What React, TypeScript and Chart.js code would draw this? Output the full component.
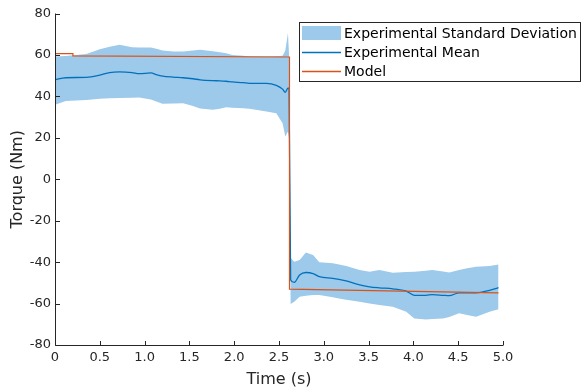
import React, { useEffect, useRef } from "react";
import { Chart, registerables } from "chart.js";

Chart.register(...registerables);

// Time samples shared by the standard-deviation band and the mean
const timeS = [
  0, 0.12, 0.35, 0.5, 0.61, 0.72, 0.86, 0.94, 1.07, 1.13, 1.2, 1.32, 1.43, 1.54, 1.62, 1.76, 1.84,
  1.91, 1.98, 2.1, 2.17, 2.24, 2.36, 2.47, 2.54, 2.57, 2.6, 2.612, 2.63, 2.67, 2.73, 2.8, 2.88,
  2.95, 3.1, 3.17, 3.25, 3.4, 3.51, 3.62, 3.77, 3.92, 4.01, 4.14, 4.21, 4.33, 4.4, 4.51, 4.6, 4.7,
  4.85, 4.95,
];
const upperSD = [
  59.2, 59.5, 60.4, 62.8, 64.0, 64.9, 63.7, 63.6, 63.6, 63.0, 62.2, 61.6, 61.6, 62.2, 62.5, 61.8,
  61.3, 60.8, 60.0, 59.6, 59.2, 59.2, 59.2, 59.4, 59.6, 62.0, 70.6, 60.0, -38.0, -39.8, -39.0,
  -35.4, -36.6, -40.1, -40.6, -41.2, -41.9, -43.8, -44.6, -43.8, -45.1, -44.8, -44.6, -44.2,
  -43.8, -44.5, -45.0, -43.8, -43.0, -42.2, -41.9, -41.1,
];
const meanTorque = [
  48.0, 49.0, 49.2, 50.3, 51.5, 51.8, 51.5, 51.0, 51.3, 50.5, 49.8, 49.3, 49.0, 48.5, 48.0, 47.6,
  47.5, 47.3, 47.0, 46.6, 46.3, 46.3, 46.3, 45.3, 43.5, 42.0, 44.0, 44.0, -48.6, -49.8, -46.2,
  -45.0, -45.5, -47.0, -47.8, -48.3, -49.0, -51.0, -51.9, -52.4, -52.9, -54.0, -56.0, -56.0,
  -55.7, -56.0, -56.2, -54.8, -54.8, -54.8, -53.6, -52.3,
];
const lowerSD = [
  35.9, 37.8, 38.3, 38.8, 39.1, 39.2, 39.3, 39.4, 38.5, 37.5, 36.4, 36.6, 36.7, 35.4, 34.2, 33.5,
  34.0, 34.8, 34.5, 34.3, 34.0, 33.5, 32.7, 31.9, 27.0, 20.6, 23.0, 20.0, -60.2, -59.1, -56.7,
  -56.2, -55.9, -55.9, -57.0, -57.5, -58.2, -59.1, -60.0, -60.7, -61.5, -64.0, -67.2, -67.7,
  -67.5, -67.2, -66.5, -64.7, -65.5, -66.4, -64.0, -62.7,
];

// Model output
const modelTime = [0, 0.2, 0.2, 2.617, 2.617, 4.95];
const modelTorque = [60.6, 60.6, 59.5, 59.0, -53.0, -54.8];

const xTicks = [0, 0.5, 1, 1.5, 2, 2.5, 3, 3.5, 4, 4.5, 5];
const yTicks = [-80, -60, -40, -20, 0, 20, 40, 60, 80];

const legendLabels = ["Experimental Standard Deviation", "Experimental Mean", "Model"];

const FONT = "'DejaVu Sans', sans-serif";
const AXIS = "#262626";
const BAND = "rgb(157,201,234)";
const MEAN = "rgb(0,114,189)";
const MODEL = "rgb(217,83,25)";

const pts = (xs: number[], ys: number[]) => xs.map((x, i) => ({ x, y: ys[i] }));

const axesPlugin = {
  id: "matlabAxes",
  afterDatasetsDraw(chart: any) {
    const { ctx, chartArea, scales } = chart;
    const L = Math.round(chartArea.left) + 0.5;
    const B = Math.round(chartArea.bottom) + 0.5;
    const T = chartArea.top;
    const R = chartArea.right;
    ctx.save();
    ctx.strokeStyle = AXIS;
    ctx.lineWidth = 1;
    ctx.beginPath();
    ctx.moveTo(L, T);
    ctx.lineTo(L, B);
    ctx.lineTo(R, B);
    for (const v of xTicks) {
      const px = Math.round(scales.x.getPixelForValue(v)) + 0.5;
      ctx.moveTo(px, B);
      ctx.lineTo(px, B - 4.5);
    }
    for (const v of yTicks) {
      const py = Math.round(scales.y.getPixelForValue(v)) + 0.5;
      ctx.moveTo(L, py);
      ctx.lineTo(L + 4.5, py);
    }
    ctx.stroke();

    // legend box
    const bx = 299.5, by = 22.5, bw = 281, bh = 59;
    ctx.fillStyle = "#ffffff";
    ctx.fillRect(bx, by, bw, bh);
    ctx.strokeStyle = AXIS;
    ctx.strokeRect(bx, by, bw, bh);
    const rowY = [33.5, 52.5, 71.5];
    ctx.fillStyle = BAND;
    ctx.fillRect(302, 26, 39, 14);
    ctx.lineWidth = 1.3;
    ctx.strokeStyle = MEAN;
    ctx.beginPath();
    ctx.moveTo(302, rowY[1]);
    ctx.lineTo(341, rowY[1]);
    ctx.stroke();
    ctx.strokeStyle = MODEL;
    ctx.beginPath();
    ctx.moveTo(302, rowY[2]);
    ctx.lineTo(341, rowY[2]);
    ctx.stroke();
    ctx.fillStyle = "#000000";
    ctx.font = `14px ${FONT}`;
    ctx.textBaseline = "middle";
    ctx.textAlign = "left";
    legendLabels.forEach((t, i) => ctx.fillText(t, 344, rowY[i] + 0.5));
    ctx.restore();
  },
};

export default function App() {
  const ref = useRef<HTMLCanvasElement | null>(null);
  useEffect(() => {
    if (!ref.current) return;
    const chart = new Chart(ref.current, {
      type: "line",
      data: {
        datasets: [
          {
            label: legendLabels[0],
            data: pts(timeS, upperSD),
            borderWidth: 0,
            borderColor: "rgba(0,0,0,0)",
            backgroundColor: BAND,
            pointRadius: 0,
            fill: "+1",
            order: 3,
            tension: 0,
          },
          {
            label: "lower",
            data: pts(timeS, lowerSD),
            borderWidth: 0,
            borderColor: "rgba(0,0,0,0)",
            pointRadius: 0,
            fill: false,
            order: 4,
          },
          {
            label: legendLabels[1],
            data: pts(timeS, meanTorque),
            borderColor: MEAN,
            borderWidth: 1.3,
            pointRadius: 0,
            fill: false,
            order: 1,
            cubicInterpolationMode: "monotone",
          },
          {
            label: legendLabels[2],
            data: pts(modelTime, modelTorque),
            borderColor: MODEL,
            borderWidth: 1.2,
            pointRadius: 0,
            fill: false,
            order: 0,
          },
        ],
      },
      options: {
        responsive: false,
        animation: false,
        events: [],
        layout: { padding: { top: 13.5, right: 78, left: 0, bottom: 0 } },
        plugins: { legend: { display: false }, tooltip: { enabled: false } },
        scales: {
          x: {
            type: "linear",
            min: 0,
            max: 5,
            afterBuildTicks: (s: any) => {
              s.ticks = xTicks.map((v) => ({ value: v }));
            },
            afterFit: (s: any) => {
              s.height = 47;
            },
            grid: { display: false, drawTicks: false },
            border: { display: false },
            ticks: { font: { family: FONT, size: 13 }, color: AXIS, padding: 5, maxRotation: 0, autoSkip: false },
            title: {
              display: true,
              text: "Time (s)",
              font: { family: FONT, size: 16 },
              color: AXIS,
              padding: { top: 0, bottom: 3 },
            },
          },
          y: {
            type: "linear",
            min: -80,
            max: 80,
            afterBuildTicks: (s: any) => {
              s.ticks = yTicks.map((v) => ({ value: v }));
            },
            afterFit: (s: any) => {
              s.width = 55;
            },
            grid: { display: false, drawTicks: false },
            border: { display: false },
            ticks: { font: { family: FONT, size: 13 }, color: AXIS, padding: 4, autoSkip: false },
            title: {
              display: true,
              text: "Torque (Nm)",
              font: { family: FONT, size: 16 },
              color: AXIS,
              padding: { top: 8, bottom: 0 },
            },
          },
        },
      },
      plugins: [axesPlugin],
    });
    return () => chart.destroy();
  }, []);
  return (
    <div style={{ position: "absolute", left: 0, top: 0, width: 581, height: 392, background: "#fff" }}>
      <canvas ref={ref} width={581} height={392} style={{ display: "block" }} />
    </div>
  );
}
